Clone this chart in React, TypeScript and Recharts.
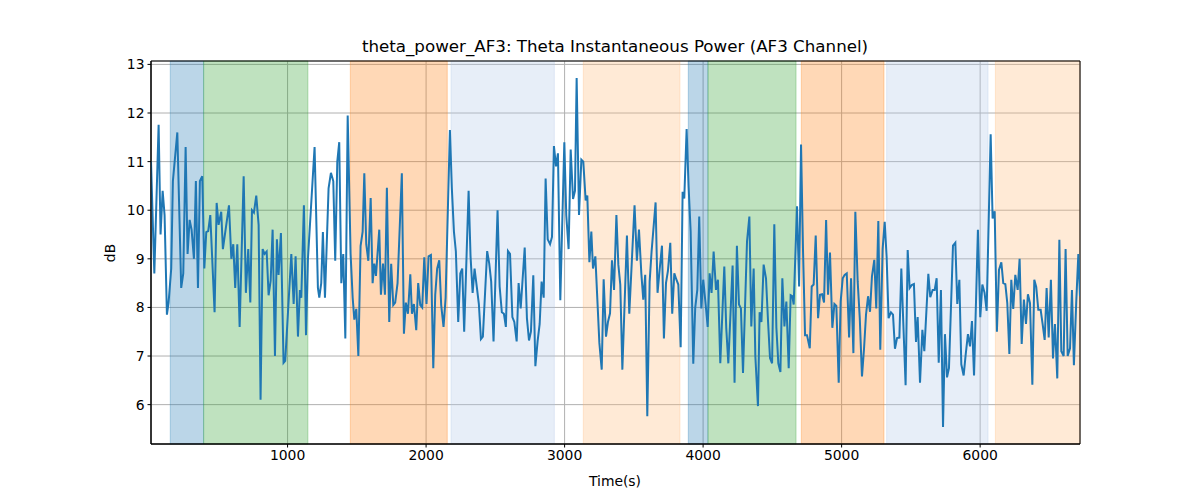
import React from 'react';
import { LineChart, Line, XAxis, YAxis, CartesianGrid, ReferenceArea } from 'recharts';

const times = [
  14, 38, 69, 83, 98, 112, 129, 141, 160, 172,
  204, 232, 247, 264, 278, 293, 307, 324, 338, 353,
  367, 384, 399, 413, 427, 442, 473, 488, 502, 521,
  533, 577, 594, 608, 622, 637, 654, 683, 699, 716,
  731, 743, 757, 774, 791, 805, 820, 834, 849, 863,
  878, 892, 909,
  923, 935, 952, 971, 983, 1027, 1044, 1058, 1075, 1089,
  1099, 1118, 1133, 1147, 1195, 1219, 1229, 1243, 1255, 1270,
  1296, 1313, 1330, 1344, 1359, 1373, 1388, 1402, 1417, 1434,
  1455, 1470, 1482, 1496, 1511, 1527, 1542, 1554, 1568, 1583,
  1600, 1614, 1626, 1638, 1662, 1674, 1689, 1703,
  1717, 1734, 1748, 1763, 1777, 1794, 1825, 1840, 1854, 1869,
  1886, 1898, 1912, 1929, 1943, 1958, 1972, 1987, 2003, 2018,
  2035, 2052, 2066, 2080, 2095, 2109, 2126, 2141, 2172, 2186,
  2201, 2215, 2232, 2247, 2261, 2275, 2307, 2321, 2336, 2350,
  2367, 2381, 2396, 2410, 2441, 2456, 2470, 2487, 2516, 2531,
  2547, 2562,
  2576, 2591, 2606, 2623, 2637, 2654, 2668, 2683, 2712, 2728,
  2743, 2757, 2774, 2789, 2805, 2820, 2834, 2849, 2863, 2878,
  2895, 2909, 2923, 2938, 2952, 2969, 2998, 3012, 3029, 3044,
  3061, 3075, 3087, 3104, 3121, 3135, 3152, 3164, 3179, 3193,
  3205, 3222, 3251, 3268, 3282, 3299, 3313, 3328, 3342, 3357,
  3374, 3388, 3402, 3417,
  3450, 3467, 3505, 3522, 3537, 3554, 3568, 3582, 3597, 3614,
  3628, 3657, 3671, 3686, 3703, 3717, 3732, 3746, 3763, 3777,
  3792, 3806, 3821, 3838, 3852, 3864, 3881, 3895, 3910, 3929,
  3943, 3958, 3972, 3987, 4001, 4018, 4033, 4047, 4061, 4076,
  4093, 4107, 4124, 4153, 4167, 4182, 4213, 4227, 4244, 4259,
  4273, 4288, 4317,
  4334, 4348, 4365, 4377, 4396, 4408, 4421, 4437, 4454, 4469,
  4483, 4498, 4514, 4529, 4543, 4558, 4572, 4587, 4601, 4618,
  4632, 4644, 4654, 4678, 4693, 4707, 4721, 4736, 4750, 4770,
  4784, 4798, 4813, 4830, 4844, 4859, 4873, 4888, 4902, 4916,
  4933, 4948, 4962, 4979, 4993, 5008, 5022, 5037, 5054, 5068,
  5085, 5099, 5116, 5131, 5147, 5162, 5176, 5191,
  5205, 5219, 5236, 5250, 5265, 5279, 5296, 5311, 5325, 5339,
  5356, 5371, 5385, 5400, 5417, 5431, 5445, 5462, 5477, 5491,
  5506, 5522, 5537, 5549, 5566, 5583, 5597, 5626, 5640, 5657,
  5672, 5686, 5701, 5717, 5732, 5746, 5761, 5775, 5804, 5821,
  5835, 5850, 5864, 5881, 5896, 5912, 5927, 5941, 5956,
  5984, 6001, 6016, 6032, 6047, 6076, 6090, 6105, 6121, 6136,
  6153, 6167, 6182, 6196, 6211, 6225, 6239, 6254, 6271, 6285,
  6300, 6316, 6331, 6345, 6360, 6377, 6391, 6405, 6420, 6437,
  6451, 6466, 6480, 6495, 6511, 6526, 6540, 6557, 6572, 6586,
  6603, 6617, 6632, 6649, 6663, 6677, 6694, 6709, 6721,
];

const thetaPower = [
  11.0, 8.7, 11.76, 9.5, 10.4, 9.9, 7.85, 8.1, 8.8, 10.6,
  11.6, 8.4, 8.7, 11.3, 9.1, 9.8, 9.6, 9.0, 10.6, 8.4,
  10.6, 10.7, 8.8, 9.55, 9.57, 9.9, 7.9, 10.15, 9.7, 9.97,
  9.2, 10.1, 9.0, 9.3, 8.4, 9.3, 7.6, 10.7, 8.3, 9.2,
  8.1, 10.0, 9.95, 10.3, 9.7, 6.1, 9.2, 9.1, 9.15, 8.25,
  8.55, 9.6, 7.0,
  9.4, 8.67, 9.53, 6.86, 6.9, 9.1, 8.07, 9.05, 7.4, 8.36,
  8.2, 10.1, 7.43, 9.0, 11.3, 8.4, 8.2, 8.5, 9.55, 8.2,
  10.45, 10.77, 10.6, 8.96, 11.0, 11.4, 8.5, 9.1, 7.36, 11.95,
  9.1, 8.2, 7.75, 7.97, 7.0, 9.26, 9.56, 10.76, 9.3, 8.96,
  10.25, 8.5, 8.9, 8.65, 9.6, 8.26, 8.9, 8.26,
  10.46, 7.7, 8.9, 8.05, 8.1, 8.5, 10.76, 7.46, 8.1, 7.87,
  8.68, 7.87, 8.07, 7.53, 8.5, 8.05, 8.0, 9.03, 8.07, 9.05,
  9.08, 6.75, 8.26, 8.8, 8.97, 8.05, 7.6, 8.2, 11.65, 10.45,
  9.56, 9.15, 7.7, 8.7, 8.8, 7.5, 10.4, 9.05, 8.3, 8.8,
  8.4, 8.07, 7.35, 7.4, 9.16, 8.9, 8.53, 7.3, 10.0, 8.43,
  7.9, 7.87,
  7.6, 9.16, 9.1, 7.8, 7.7, 7.3, 8.5, 7.98, 9.23, 7.78,
  7.32, 7.5, 8.66, 6.79, 7.3, 7.66, 8.53, 8.2, 10.65, 9.4,
  9.3, 9.45, 11.32, 10.9, 11.17, 8.15, 11.4, 9.9, 9.2, 11.25,
  10.23, 10.4, 12.72, 9.9, 11.04, 11.0, 10.2, 10.3, 8.93, 9.56,
  8.8, 9.05, 7.27, 6.72, 8.58, 7.4, 7.7, 7.88, 8.97, 8.36,
  9.9, 8.88, 8.47, 6.72,
  9.48, 7.87, 10.1, 8.96, 9.6, 8.7, 8.16, 8.67, 5.76, 8.53,
  9.15, 10.16, 8.3, 8.77, 9.27, 7.36, 8.5, 8.75, 9.33, 7.87,
  8.7, 8.58, 8.47, 7.18, 10.38, 10.24, 11.67, 10.5, 9.56, 6.84,
  7.99, 8.36, 9.87, 7.98, 8.57, 8.07, 7.6, 8.7, 8.3, 9.15,
  8.36, 8.57, 6.85, 8.84, 7.58, 6.85, 8.86, 6.45, 9.27, 8.06,
  7.98, 6.65, 9.36,
  9.87, 7.61, 8.8, 7.0, 5.97, 7.9, 7.7, 8.88, 8.6, 7.7,
  6.96, 6.85, 9.71, 7.58, 6.85, 6.67, 8.6, 7.61, 8.12, 6.75,
  8.25, 8.23, 8.06, 10.08, 8.43, 11.35, 9.21, 7.43, 7.43, 7.16,
  8.43, 8.47, 9.48, 7.78, 8.26, 8.27, 8.1, 9.8, 8.26, 9.13,
  7.58, 8.07, 8.03, 6.45, 8.12, 8.6, 8.67, 8.7, 7.38, 8.6,
  7.06, 9.97, 8.53, 7.78, 6.58, 7.16, 7.85, 8.23,
  7.91, 8.64, 8.98, 7.98, 9.78, 7.13, 9.2, 9.76, 9.03, 7.78,
  7.9, 7.85, 7.15, 7.37, 7.38, 8.8, 7.7, 6.4, 9.18, 8.4,
  8.46, 8.48, 7.29, 7.8, 6.45, 7.54, 7.1, 8.69, 8.21, 8.36,
  8.36, 8.6, 6.86, 8.36, 5.54, 7.45, 6.56, 6.75, 9.27, 9.33,
  8.07, 8.57, 6.83, 6.6, 7.04, 7.45, 7.2, 7.72, 6.6,
  9.6, 7.8, 8.47, 8.3, 7.93, 11.56, 9.83, 9.98, 7.5, 8.77,
  8.93, 8.5, 8.48, 8.09, 7.04, 8.57, 7.97, 8.67, 8.36, 9.0,
  7.25, 8.16, 7.66, 8.27, 8.09, 6.41, 8.57, 8.42, 7.95, 7.95,
  7.66, 7.33, 8.4, 7.38, 8.57, 6.95, 7.66, 6.54, 9.39, 7.1,
  7.0, 9.2, 7.0, 7.16, 8.36, 6.81, 8.12, 9.1, 8.23,
];

const xTicks = [1000, 2000, 3000, 4000, 5000, 6000];
const yTicks = [6, 7, 8, 9, 10, 11, 12, 13];

const bandStarts = [153, 394, 1453, 2180, 3135, 3893, 4035, 4709, 5325, 6110];
const bandEnds = [394, 1147, 2153, 2926, 3833, 4035, 4671, 5306, 6057, 6721];
const bandColors = ['#1f77b4', '#2ca02c', '#ff7f0e', '#aec7e8', '#ffbb78', '#1f77b4', '#2ca02c', '#ff7f0e', '#aec7e8', '#ffbb78'];

const X_MIN = 14;
const X_MAX = 6721;
const Y_MIN = 5.19;
const Y_MAX = 13.07;

const data = times.map((t, i) => ({ t, v: thetaPower[i] }));

const font = '"DejaVu Sans", sans-serif';

export default function App() {
  return (
    <div style={{ position: 'absolute', left: 0, top: 0, width: 1200, height: 500, background: '#fff', fontFamily: font }}>
      <LineChart width={1200} height={500} data={data} margin={{ top: 61, right: 120, bottom: 0, left: 0 }}>
        <CartesianGrid stroke="#b0b0b0" strokeWidth={1} />
        <XAxis
          dataKey="t"
          type="number"
          domain={[X_MIN, X_MAX]}
          ticks={xTicks}
          allowDataOverflow
          height={56}
          tickSize={3.5}
          tickMargin={3}
          stroke="#000"
          tick={{ fontSize: 13.9, fill: '#000', fontFamily: font }}
        />
        <YAxis
          type="number"
          domain={[Y_MIN, Y_MAX]}
          ticks={yTicks}
          allowDataOverflow
          width={151}
          tickSize={3.5}
          tickMargin={3}
          stroke="#000"
          tick={{ fontSize: 13.9, fill: '#000', fontFamily: font }}
        />
        {bandStarts.map((s, i) => (
          <ReferenceArea
            key={i}
            x1={s}
            x2={bandEnds[i]}
            fill={bandColors[i]}
            fillOpacity={0.3}
            stroke={bandColors[i]}
            strokeOpacity={0.3}
            strokeWidth={1}
          />
        ))}
        <Line
          type="linear"
          dataKey="v"
          stroke="#1f77b4"
          strokeWidth={2}
          dot={false}
          isAnimationActive={false}
        />
        <ReferenceArea x1={X_MIN} x2={X_MAX} y1={Y_MIN} y2={Y_MAX} fill="none" stroke="#000" strokeWidth={1} />
      </LineChart>
      <div style={{ position: 'absolute', left: 615, top: 46, transform: 'translate(-50%, -50%)', fontSize: 16.7, whiteSpace: 'nowrap', color: '#000' }}>
        theta_power_AF3: Theta Instantaneous Power (AF3 Channel)
      </div>
      <div style={{ position: 'absolute', left: 615, top: 481, transform: 'translate(-50%, -50%)', fontSize: 13.9, whiteSpace: 'nowrap', color: '#000' }}>
        Time(s)
      </div>
      <div style={{ position: 'absolute', left: 110, top: 253, transform: 'translate(-50%, -50%) rotate(-90deg)', fontSize: 13.9, whiteSpace: 'nowrap', color: '#000' }}>
        dB
      </div>
    </div>
  );
}
